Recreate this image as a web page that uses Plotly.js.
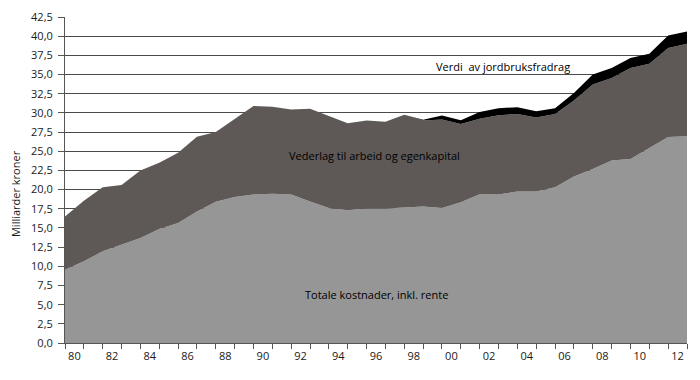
<!DOCTYPE html>
<html>
<head>
<meta charset="utf-8">
<script src="https://cdn.plot.ly/plotly-3.0.1.min.js"></script>
<style>
html,body{margin:0;padding:0;background:#fff;}
#chart{width:700px;height:380px;}
</style>
</head>
<body>
<div id="chart"></div>
<script>
// Tick labels (years), one per two periods
const tickLabels = ['80','82','84','86','88','90','92','94','96','98','00','02','04','06','08','10','12'];

// Series values (milliarder kroner), 34 points
const totaleKostnader = [9.55,10.65,11.95,12.8,13.7,14.85,15.65,17.15,18.4,19.05,19.35,19.45,19.35,18.45,17.6,17.3,17.55,17.55,17.7,17.8,17.6,18.35,19.4,19.35,19.75,19.75,20.3,21.7,22.7,23.8,24.0,25.4,26.85,26.95];
const vederlag = [6.95,7.9,8.35,7.8,8.8,8.65,9.15,9.75,9.1,10.15,11.55,11.35,11.1,12.1,12.05,11.35,11.45,11.3,12.05,11.2,11.55,10.2,9.85,10.35,10.1,9.65,9.55,9.9,11.0,10.75,11.85,11.0,11.6,12.05];
const jordbruksfradrag = [0,0,0,0,0,0,0,0,0,0,0,0,0,0,0,0,0,0,0,0.1,0.5,0.5,0.85,0.9,0.9,0.8,0.75,1.0,1.3,1.3,1.3,1.3,1.65,1.6];

const seriesNames = ['Totale kostnader, inkl. rente','Vederlag til arbeid og egenkapital','Verdi  av jordbruksfradrag'];
const colors = ['#969696','#5e5957','#000000'];

const xPos = totaleKostnader.map((_, i) => i);
const tickVals = tickLabels.map((_, k) => 0.5 + 2 * k);

const font = "'Open Sans', 'Noto Sans', sans-serif";

const traces = [totaleKostnader, vederlag, jordbruksfradrag].map((vals, j) => ({
  type: 'scatter',
  mode: 'lines',
  x: xPos,
  y: vals,
  name: seriesNames[j],
  stackgroup: 'one',
  line: {width: 0, color: colors[j]},
  fillcolor: colors[j],
  hoverinfo: 'skip'
}));

const layout = {
  width: 700, height: 380,
  margin: {l: 65, r: 13, t: 17, b: 37},
  paper_bgcolor: '#ffffff',
  plot_bgcolor: '#ffffff',
  showlegend: false,
  separators: ', ',
  font: {family: font, size: 11, color: '#1a1a1a'},
  xaxis: {
    range: [0, xPos.length - 1],
    tickmode: 'array',
    tickvals: tickVals,
    ticktext: tickLabels,
    ticks: '',
    ticklabelstandoff: 3,
    showgrid: false,
    zeroline: false,
    showline: true,
    linecolor: '#555555',
    linewidth: 1,
    minor: {ticks: 'outside', tick0: 0, dtick: 1, ticklen: 5, tickcolor: '#555555', showgrid: false},
    tickfont: {family: font, size: 11, color: '#1a1a1a'}
  },
  yaxis: {
    range: [0, 42.5],
    tick0: 0,
    dtick: 2.5,
    tickformat: '.1f',
    ticks: 'outside',
    ticklen: 6,
    tickcolor: '#555555',
    ticklabelstandoff: 3,
    showgrid: true,
    gridcolor: '#4a4a4a',
    gridwidth: 1,
    zeroline: false,
    showline: true,
    linecolor: '#555555',
    linewidth: 1,
    tickfont: {family: font, size: 11, color: '#1a1a1a'}
  },
  annotations: [
    {text: 'Milliarder kroner', xref: 'paper', yref: 'paper', x: -0.0804, y: 0.46, textangle: -90,
     showarrow: false, xanchor: 'center', yanchor: 'middle', font: {family: font, size: 11, color: '#1a1a1a'}},
    {text: seriesNames[2], xref: 'x', yref: 'y', x: 23.24, y: 36.0, showarrow: false,
     font: {family: font, size: 11, color: '#000000'}},
    {text: seriesNames[1], xref: 'x', yref: 'y', x: 16.4, y: 24.4, showarrow: false,
     font: {family: font, size: 11, color: '#000000'}},
    {text: seriesNames[0], xref: 'x', yref: 'y', x: 16.5, y: 6.3, showarrow: false,
     font: {family: font, size: 11, color: '#000000'}}
  ]
};

Plotly.newPlot('chart', traces, layout, {displayModeBar: false, staticPlot: true});
</script>
</body>
</html>
